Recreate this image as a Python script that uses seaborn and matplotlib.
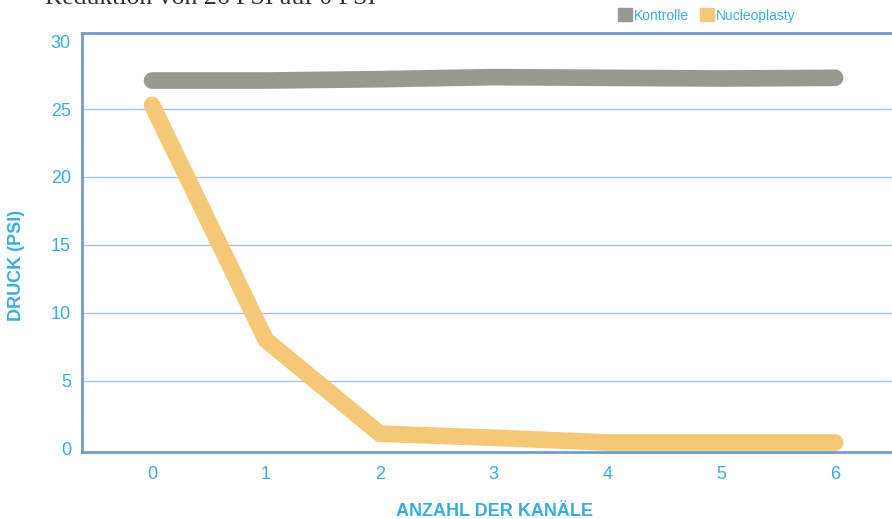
import matplotlib
matplotlib.use("Agg")
import matplotlib.pyplot as plt
import seaborn as sns
import pandas as pd
from matplotlib.patches import Rectangle

kanaele = [0, 1, 2, 3, 4, 5, 6]
kontrolle = [27.1, 27.1, 27.2, 27.35, 27.3, 27.25, 27.3]
nucleoplasty = [25.3, 8.0, 1.1, 0.8, 0.45, 0.45, 0.45]
series_names = ["Kontrolle", "Nucleoplasty"]
y_ticks = [0, 5, 10, 15, 20, 25, 30]
grid_values = [5, 10, 15, 20, 25]

df = pd.DataFrame({
    "Kanäle": kanaele * 2,
    "Druck": kontrolle + nucleoplasty,
    "Serie": [series_names[0]] * len(kanaele) + [series_names[1]] * len(kanaele),
})

sns.set_theme(style="white")
plt.rcParams["font.family"] = ["Liberation Sans Narrow", "Liberation Sans", "DejaVu Sans"]

BLUE = "#3aade0"
SPINE = "#6e9ccc"
GRID = "#a8c2e2"
palette = {"Kontrolle": "#969a91", "Nucleoplasty": "#f5c878"}

fig = plt.figure(figsize=(8.92, 5.19), dpi=100)
ax = fig.add_axes([82 / 892, (519 - 452) / 519, 1 - 82 / 892, (452 - 33) / 519])

sns.lineplot(data=df, x="Kanäle", y="Druck", hue="Serie", palette=palette,
             linewidth=12, legend=False, ax=ax, sort=False)
for ln in ax.lines:
    ln.set_solid_capstyle("round")
    ln.set_solid_joinstyle("miter")
    ln.set_zorder(3)

for g in grid_values:
    ax.axhline(g, color=GRID, linewidth=1, zorder=1)

ax.set_xlim(-0.615, 6.5)
ax.set_ylim(-0.25, 30.6)
ax.set_xticks(kanaele)
ax.set_yticks(y_ticks)
for s in ["left", "bottom", "top"]:
    ax.spines[s].set_color(SPINE)
    ax.spines[s].set_linewidth(2)
ax.spines["right"].set_visible(False)
ax.tick_params(axis="both", length=0, colors=BLUE, labelsize=13)
ax.tick_params(axis="x", pad=10)
ax.tick_params(axis="y", pad=8)
ax.set_xlabel("")
ax.set_ylabel("")

fig.text(494 / 892, 1 - 512 / 519, "ANZAHL DER KANÄLE", color=BLUE, fontsize=13,
         fontweight="bold", ha="center", va="center")
fig.text(17 / 892, 1 - 265 / 519, "DRUCK (PSI)", color=BLUE, fontsize=13,
         fontweight="bold", ha="center", va="center", rotation=90)

fig.text(45 / 892, 1 - 4 / 519, "Reduktion von 26 PSI auf 0 PSI", family="Liberation Serif",
         fontsize=18.5, color="#333333", va="baseline", ha="left")

# legend
lx = [618, 700]
for i, name in enumerate(series_names):
    fig.patches.append(Rectangle((lx[i] / 892, 1 - 21 / 519), 14 / 892, 13 / 519,
                                 transform=fig.transFigure, color=palette[name]))
    fig.text((lx[i] + 16) / 892, 1 - 16 / 519, name, color=BLUE, fontsize=10,
             va="center", ha="left")

fig.savefig("out.png", dpi=100)
